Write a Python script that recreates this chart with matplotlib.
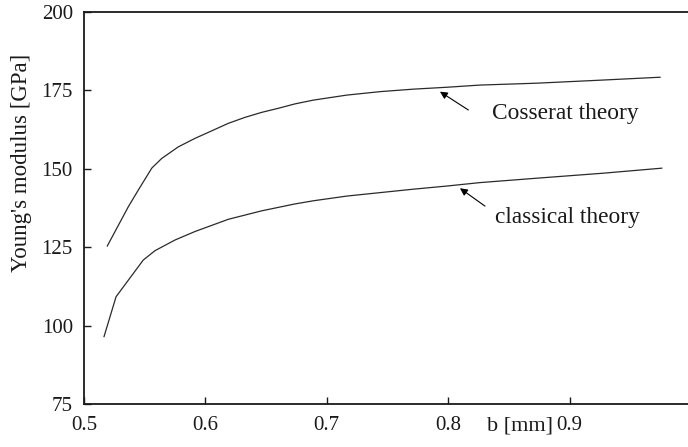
import matplotlib
matplotlib.use("Agg")
import matplotlib.pyplot as plt

# ---- data ----
b_cosserat = [0.5192, 0.5365, 0.5447, 0.5558, 0.5640, 0.5777, 0.5914, 0.6052, 0.6189,
              0.6326, 0.6464, 0.6601, 0.6738, 0.6889, 0.7164, 0.7438, 0.7713, 0.7988,
              0.8262, 0.8729, 0.9275, 0.9745]
E_cosserat = [125.4, 137.9, 143.2, 150.2, 153.3, 157.0, 159.7, 162.1, 164.5,
              166.4, 168.0, 169.3, 170.7, 171.9, 173.5, 174.6, 175.4, 176.0,
              176.7, 177.3, 178.3, 179.2]

b_classical = [0.5165, 0.5264, 0.5488, 0.5585, 0.5750, 0.5914, 0.6189, 0.6464, 0.6738,
               0.6889, 0.7164, 0.7438, 0.7713, 0.7988, 0.8262, 0.8729, 0.9278, 0.9759]
E_classical = [96.5, 109.2, 120.9, 123.9, 127.3, 130.0, 133.9, 136.6, 138.8,
               139.8, 141.3, 142.4, 143.5, 144.5, 145.6, 147.0, 148.6, 150.2]

x_ticks = [0.5, 0.6, 0.7, 0.8, 0.9, 1.0]
x_tick_labels = ["0.5", "0.6", "0.7", "0.8", "0.9", "1"]
y_ticks = [75, 100, 125, 150, 175, 200]

label_cosserat = "Cosserat theory"
label_classical = "classical theory"
x_label = "b [mm]"
y_label = "Young's modulus [GPa]"

# ---- figure ----
plt.rcParams['font.family'] = ['Liberation Serif', 'DejaVu Serif']
fig = plt.figure(figsize=(6.88, 4.47), dpi=100)
W, H = 688, 447
ax = fig.add_axes([84 / W, 1 - 404 / H, (691 - 84) / W, (404 - 12) / H])

line_color = '#2a2a2a'
ax.plot(b_cosserat, E_cosserat, color=line_color, lw=0.9)
ax.plot(b_classical, E_classical, color=line_color, lw=0.9)

ax.set_xlim(0.5, 1.0)
ax.set_ylim(75, 200)
ax.set_xticks(x_ticks)
ax.set_xticklabels(x_tick_labels)
ax.set_yticks(y_ticks)
ax.tick_params(direction='in', length=5, width=1.0, labelsize=15,
               colors='#1a1a1a', pad=8, top=False, right=False)
ax.tick_params(axis='x', pad=9)
for s in ax.spines.values():
    s.set_linewidth(1.3)
    s.set_color('#1a1a1a')

arrow_kw = dict(arrowstyle='-|>', lw=0.8, color='black', mutation_scale=11,
                shrinkA=0, shrinkB=0)
ax.annotate("", xy=(0.7932, 174.6), xytext=(0.8166, 168.75), arrowprops=arrow_kw)
ax.annotate("", xy=(0.8097, 143.8), xytext=(0.8303, 138.1), arrowprops=arrow_kw)

ax.text(0.8361, 165.8, label_cosserat, fontsize=16.8, va='baseline', ha='left', color='#1a1a1a')
ax.text(0.8386, 132.6, label_classical, fontsize=16.8, va='baseline', ha='left', color='#1a1a1a')

fig.text(487 / W, 1 - 430 / H, x_label, fontsize=16, va='baseline', ha='left', color='#1a1a1a')
fig.text(22 / W, 1 - 163 / H, y_label, fontsize=16.5, rotation=90, va='center', ha='center',
         color='#1a1a1a')

fig.savefig("out.png", dpi=100)
